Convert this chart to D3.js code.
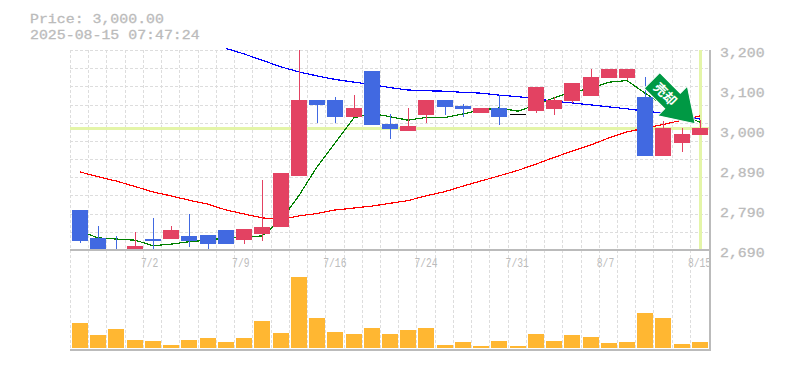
<!DOCTYPE html>
<html>
<head>
<meta charset="utf-8">
<script src="https://cdn.jsdelivr.net/npm/d3@7"></script>
<style>
  html, body { margin: 0; padding: 0; background: #fff; }
  svg { display: block; }
  text { font-family: "Liberation Mono", monospace; fill: #bbb; stroke: #bbb; stroke-width: .3; }
</style>
</head>
<body>
<svg width="785" height="370"></svg>
<script>
const dates = ["6/26","6/27","6/30","7/1","7/2","7/3","7/4","7/7","7/8","7/9","7/10","7/11","7/14","7/15","7/16","7/17","7/18","7/22","7/23","7/24","7/25","7/28","7/29","7/30","7/31","8/1","8/4","8/5","8/6","8/7","8/8","8/12","8/13","8/14","8/15"]
const labelledDates = ["7/2","7/9","7/16","7/24","7/31","8/7","8/15"]
const opens = [2792,2721,2693,2690,2718,2718,2726,2728,2741,2716,2731,2749,2879,3072,3072,3029,3146,3011,2993,3034,3072,3057,3039,3052,3037,3044,3050,3070,3083,3129,3129,3080,2930,2963,2983]
const closes = [2714,2690,2690,2700,2713,2741,2713,2705,2705,2744,2749,2886,3072,3060,3029,3052,3009,2999,3006,3072,3055,3050,3052,3029,3037,3106,3072,3116,3131,3152,3152,2930,3000,2986,3000]
const highs = [2792,2751,2726,2736,2772,2751,2782,2728,2741,2744,2868,2886,3200,3072,3080,3085,3146,3037,3052,3072,3072,3062,3052,3085,3037,3106,3080,3116,3152,3152,3152,3131,3019,3000,3021]
const lows = [2709,2690,2690,2690,2690,2718,2698,2693,2705,2705,2713,2749,2879,3014,3014,3029,3009,2973,2993,3014,3034,3029,3039,3009,3037,3039,3034,3065,3083,3129,3124,2930,2930,2940,2983]
const volumes = [2500,1300,1900,800,700,300,800,1000,600,1000,2700,1500,7100,3000,1600,1400,2000,1400,1800,2000,300,600,200,700,200,1400,700,1300,1100,500,600,3500,3000,400,600]
const maShort = [2738,2721,2718,2715,2701,2705,2711,2715,2721,2723,2726,2766,2829,2902,2963,3027,3038,3030,3021,3028,3028,3037,3047,3052,3044,3060,3078,3093,3102,3118,3122,3090,3060,3034,3016]
const maMid = [null,null,null,null,null,null,null,null,3204,3190,3174,3157,3144,3134,3125,3118,3112,3104,3098,3096,3095,3092,3090,3085,3081,3076,3069,3065,3060,3055,3050,3044,3039,3032,3024]
const maLong = [2889,2877,2866,2852,2838,2828,2817,2807,2792,2782,2772,2768,2777,2783,2792,2797,2802,2809,2816,2828,2839,2853,2866,2879,2893,2909,2926,2942,2958,2976,2991,3001,3010,3021,3032]
const priceTicks = [3200,3098,2996,2894,2792,2690]
const lastPrice = 3000
const title = ["Price: 3,000.00","2025-08-15 07:47:24"]

const svg = d3.select("svg")

const x = d3.scaleBand().domain(d3.range(dates.length)).range([70, 708.2])
const y = d3.scaleLinear().domain([2690, 3200]).range([250, 50])
const yVol = d3.scaleLinear().domain([0, 7100]).range([348, 277])
const barX = i => Math.round(x(i)) + 2
const midX = i => barX(i) + 8

const up = "#e34262", down = "#4169e1", gridColor = "#ddd", frame = "#bbb", mark = "#e4f5a8"

// clip so the wicks and averages stay in the chart box
svg.append("clipPath").attr("id", "plot").append("rect")
  .attr("x", 70).attr("y", 47).attr("width", 640).attr("height", 203)

// grid
const grid = svg.append("g").attr("stroke", gridColor).attr("stroke-dasharray", "3,2").attr("shape-rendering", "crispEdges")
grid.selectAll(".v").data(d3.range(dates.length)).enter().append("line")
  .attr("x1", i => Math.round(x(i)) + .5).attr("x2", i => Math.round(x(i)) + .5)
  .attr("y1", 50).attr("y2", 350)
grid.selectAll(".h").data(d3.range(12)).enter().append("line")
  .attr("x1", 70).attr("x2", 710)
  .attr("y1", k => Math.round(50 + k * 200 / 11) + .5).attr("y2", k => Math.round(50 + k * 200 / 11) + .5)

// current price marker
const markG = svg.append("g").attr("stroke", mark).attr("stroke-width", 3).attr("shape-rendering", "crispEdges")
markG.append("line").attr("x1", 70).attr("x2", 710).attr("y1", y(lastPrice)).attr("y2", y(lastPrice))
markG.append("line").attr("x1", midX(34)).attr("x2", midX(34)).attr("y1", 50).attr("y2", 250)

// moving averages
const plot = svg.append("g").attr("clip-path", "url(#plot)")
const line = d3.line().defined(d => d != null).x((d, i) => midX(i)).y(d => y(d))
const lines = [[maLong, "#f00"], [maMid, "#00f"], [maShort, "#008000"]]
lines.forEach(function(l) {
  plot.append("path").attr("d", line(l[0])).attr("fill", "none").attr("stroke", l[1]).attr("stroke-width", 1.2).attr("shape-rendering", "crispEdges")
})

// candles
const candleColor = i => closes[i] > opens[i] ? up : closes[i] < opens[i] ? down : "#000"
const candles = plot.selectAll(".candle").data(d3.range(dates.length)).enter().append("g").attr("shape-rendering", "crispEdges")
candles.append("line")
  .attr("x1", i => midX(i) + .5).attr("x2", i => midX(i) + .5)
  .attr("y1", i => y(highs[i])).attr("y2", i => y(lows[i]))
  .attr("stroke", candleColor)
candles.append("rect")
  .attr("x", barX).attr("width", 16)
  .attr("y", i => Math.round(y(Math.max(opens[i], closes[i]))))
  .attr("height", i => Math.max(1, Math.round(y(Math.min(opens[i], closes[i]))) - Math.round(y(Math.max(opens[i], closes[i])))))
  .attr("fill", candleColor)

// volume
svg.append("g").selectAll("rect").data(volumes).enter().append("rect")
  .attr("x", (d, i) => barX(i)).attr("width", 16)
  .attr("y", d => yVol(d)).attr("height", d => 348 - yVol(d))
  .attr("fill", "#ffb732")

// frame
const fr = svg.append("g").attr("stroke", frame).attr("stroke-width", 2).attr("shape-rendering", "crispEdges")
fr.append("line").attr("x1", 70).attr("x2", 711).attr("y1", 250).attr("y2", 250)
fr.append("line").attr("x1", 70).attr("x2", 711).attr("y1", 350).attr("y2", 350)
fr.append("line").attr("x1", 710).attr("x2", 710).attr("y1", 50).attr("y2", 351)

// signal arrow, in its own box then turned 45 degrees onto the last days
const arrow = svg.append("g").attr("transform", "translate(652,80.5) rotate(45)")
arrow.append("path")
  .attr("d", d3.line()([[0,-11],[29,-11],[29,-21],[61,0],[29,21],[29,11],[0,11]]) + "Z")
  .attr("fill", "#009944").attr("stroke", "#fff").attr("stroke-width", 1)
arrow.append("text").text("売却").attr("x", 6).attr("y", 5)
  .style("font-family", "'Noto Sans CJK JP'").style("font-size", "13px").style("font-weight", "bold")
  .style("fill", "#fff").style("stroke", "none")

// price labels
svg.selectAll(".price").data(priceTicks).enter().append("text")
  .attr("x", 720).attr("y", d => y(d) + 7)
  .attr("textLength", 44.6).attr("lengthAdjust", "spacingAndGlyphs")
  .style("font-size", "13.5px")
  .text(d => d3.format(",")(Math.round(d / 10) * 10))

// date labels, narrow and tall like the original
svg.selectAll(".date").data(labelledDates).enter().append("text")
  .attr("x", d => x(dates.indexOf(d)) - 2).attr("y", 267)
  .attr("textLength", d => d.length * 5.8).attr("lengthAdjust", "spacingAndGlyphs")
  .style("font-size", "13px").style("stroke-width", 0)
  .text(d => d)

// title
svg.selectAll(".title").data(title).enter().append("text")
  .attr("x", 30).attr("y", (d, i) => 23 + i * 15.5)
  .attr("textLength", d => d.length * 8.93).attr("lengthAdjust", "spacingAndGlyphs")
  .style("font-size", "13.5px")
  .text(d => d)
</script>
</body>
</html>
